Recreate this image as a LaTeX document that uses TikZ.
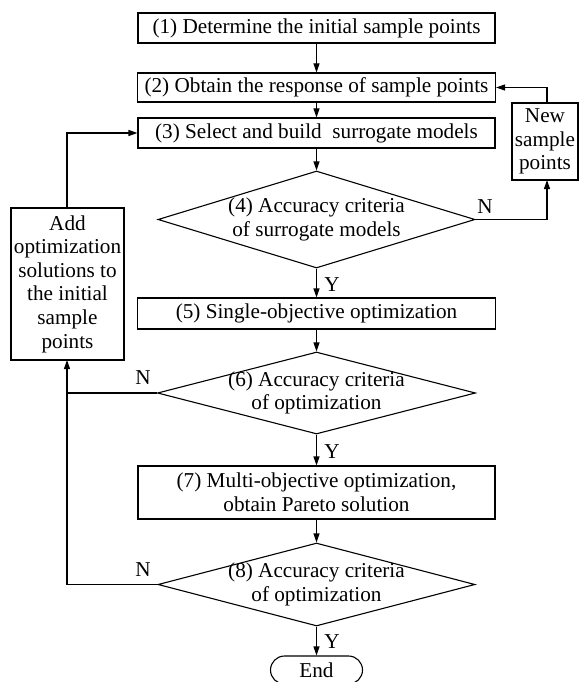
\documentclass[tikz,border=0pt]{standalone}
\usepackage{fontspec}
\setmainfont{Liberation Serif}
\usetikzlibrary{shapes.geometric,arrows.meta}
\begin{document}
\begin{tikzpicture}[x=1pt,y=-1pt,
  font=\fontsize{21.2}{23.6}\selectfont,
  line width=1.1pt,
  box/.style={draw,rectangle,inner sep=0pt,align=center},
  dia/.style={draw,diamond,inner sep=0pt},
  arr/.style={-{Triangle[length=9pt,width=6pt]}},
  lab/.style={inner sep=0pt}]
\useasboundingbox (0,0) rectangle (579,682);
\node[box,minimum width=357pt,minimum height=30pt] (b1) at (316.5,28) {(1) Determine the initial sample points};
\node[box,minimum width=358pt,minimum height=29pt] (b2) at (316.5,87.5) {(2) Obtain the response of sample points};
\node[box,minimum width=357pt,minimum height=30pt] (b3) at (316.5,133) {(3) Select and build\ \ surrogate models};
\node[dia,minimum width=317pt,minimum height=97pt,label={[align=center]center:(4) Accuracy criteria\\of surrogate models}] (d4) at (316.5,219.5) {};
\node[box,minimum width=358pt,minimum height=31pt] (b5) at (316.5,313.5) {(5) Single-objective optimization};
\node[dia,minimum width=318pt,minimum height=82pt,label={[align=center]center:(6) Accuracy criteria\\of optimization}] (d6) at (316.5,393) {};
\node[box,minimum width=357pt,minimum height=53pt] (b7) at (316.5,492.5) {(7) Multi-objective optimization,\\obtain Pareto solution};
\node[dia,minimum width=317pt,minimum height=83pt,label={[align=center]center:(8) Accuracy criteria\\of optimization}] (d8) at (316.5,584.5) {};
\node[box,rounded corners=14pt,minimum width=92pt,minimum height=28pt] (end) at (316.5,670) {End};
\node[box,minimum width=66pt,minimum height=77pt] (new) at (545,141.5) {New\\sample\\points};
\node[box,minimum width=113pt,minimum height=152pt] (add) at (67.5,284) {Add\\optimization\\solutions to\\the initial\\sample\\points};
\coordinate (nx) at (547,180);
\coordinate (ax) at (67,360);
\draw[arr] (b1) -- (b2);
\draw[arr] (b2) -- (b3);
\draw[arr] (b3) -- (d4.north);
\draw[arr] (d4.south) -- (b5);
\draw[arr] (b5) -- (d6.north);
\draw[arr] (d6.south) -- (b7);
\draw[arr] (b7) -- (d8.north);
\draw[arr] (d8.south) -- (end);
\draw[arr] (d4.east) -| (nx);
\draw[arr] (new.north -| nx) |- (b2.east);
\draw (d6.west) -- (ax |- d6.west);
\draw[arr] (d8.west) -| (ax);
\draw[arr] (add.north -| ax) |- (b3.west);
\node[lab] (y4) at (332,285) {Y};
\node[lab] (y6) at (332,452) {Y};
\node[lab] (y8) at (332,642) {Y};
\node[lab] (n4) at (485,207) {N};
\node[lab] (n6) at (143,378) {N};
\node[lab] (n8) at (143,570) {N};
\end{tikzpicture}
\end{document}
